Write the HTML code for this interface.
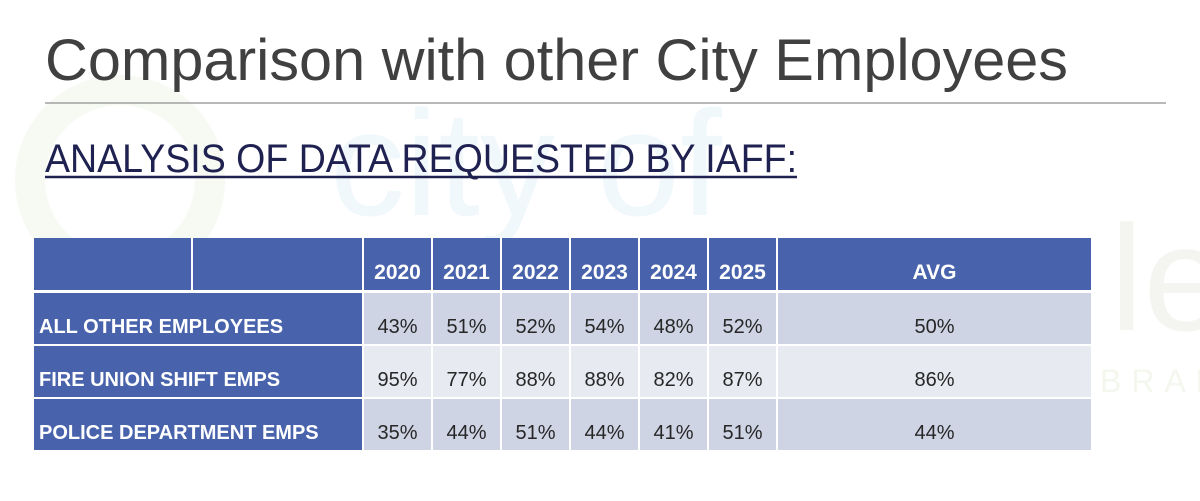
<!DOCTYPE html>
<html><head><meta charset="utf-8">
<style>
html,body{margin:0;padding:0;width:1200px;height:501px;background:#fff;overflow:hidden;font-family:"Liberation Sans",sans-serif}
.c{position:absolute;box-sizing:border-box;display:flex;align-items:flex-end;justify-content:center;padding-bottom:5px;font-size:19px;white-space:nowrap}
</style></head>
<body>
<svg width="1200" height="501" style="position:absolute;left:0;top:0">
  <text x="330" y="215" font-size="150" fill="#f0f8fc" font-family="Liberation Sans">city of</text>
  <text x="1110" y="330" font-size="150" fill="#f4f5f1" font-family="Liberation Sans">le</text>
  <text x="1100" y="392" font-size="32" fill="#f3f7ee" letter-spacing="10" font-family="Liberation Sans">BRAN</text>
  <circle cx="120" cy="180" r="90" fill="none" stroke="#f6faf3" stroke-width="30"/>
</svg>
<svg width="1200" height="200" style="position:absolute;left:0;top:0">
  <text x="45" y="80" font-size="58" fill="#404040" textLength="1023" lengthAdjust="spacingAndGlyphs" font-family="Liberation Sans">Comparison with other City Employees</text>
  <line x1="45" y1="103" x2="1166" y2="103" stroke="#a0a0a0" stroke-width="1.5"/>
  <text x="45" y="172" font-size="40" fill="#1f2150" textLength="752" lengthAdjust="spacingAndGlyphs" font-family="Liberation Sans">ANALYSIS OF DATA REQUESTED BY IAFF:</text>
  <line x1="45" y1="177" x2="797" y2="177" stroke="#1f2150" stroke-width="2.5"/>
</svg>
<div id="tbl"></div>
<script>
const years=["2020","2021","2022","2023","2024","2025"];
const rowLabels=["ALL OTHER EMPLOYEES","FIRE UNION SHIFT EMPS","POLICE DEPARTMENT EMPS"];
const allOther=[43,51,52,54,48,52];
const fireUnion=[95,77,88,88,82,87];
const police=[35,44,51,44,41,51];
const avgs=[50,86,44];
const series=[allOther,fireUnion,police];
const tbl=document.getElementById('tbl');
const colX=[364,433,502,571,640,709,778];
const avgR=1093, left=34;
const hdrTop=238,hdrBot=290;
const rowTops=[293,346,399], rowH=51;
const blue="#4863ab";
const rowBg=["#cfd4e5","#e8eaf2","#cfd4e5"];
function cell(x,y,w,h,bg,txt,col,bold,align,fs){
  const d=document.createElement('div');d.className='c';
  d.style.cssText+=`left:${x}px;top:${y}px;width:${w}px;height:${h}px;background:${bg};color:${col};font-weight:${bold?'bold':'normal'};border-right:2px solid #fff;font-size:${fs}px;`;
  if(align==='left'){d.style.justifyContent='flex-start';d.style.paddingLeft='5px';}
  d.textContent=txt;tbl.appendChild(d);return d;
}
let d;
d=cell(left,hdrTop,159,hdrBot-hdrTop,blue,"", "#fff",true,null,21);


d=cell(193,hdrTop,171,hdrBot-hdrTop,blue,"", "#fff",true,null,21);


years.forEach((y,i)=>{
  const c=cell(colX[i],hdrTop,colX[i+1]-colX[i],hdrBot-hdrTop,blue,y,"#fff",true,null,21);
  
  
});
d=cell(778,hdrTop,avgR-778,hdrBot-hdrTop,blue,"AVG","#fff",true,null,21);


rowLabels.forEach((lab,r)=>{
  const t=rowTops[r];
  const l=cell(left,t,364-left,rowH,blue,lab,"#fff",true,'left',20);
  
  
  series[r].forEach((v,i)=>{
    const c=cell(colX[i],t,colX[i+1]-colX[i],rowH,rowBg[r],v+"%","#262626",false,null,20);
    
    
  });
  const a=cell(778,t,avgR-778,rowH,rowBg[r],avgs[r]+"%","#262626",false,null,20);
  
  
});
</script>
</body></html>
